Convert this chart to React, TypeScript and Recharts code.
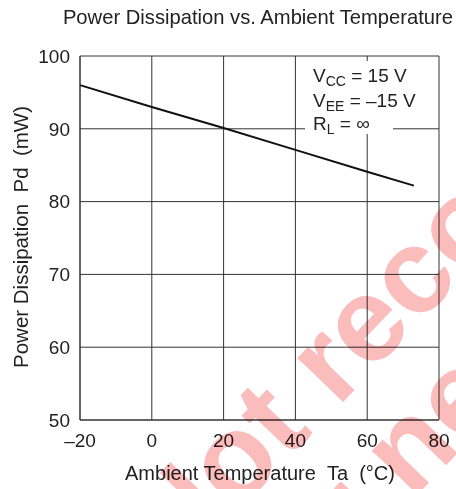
import { LineChart, Line, XAxis, YAxis, CartesianGrid } from 'recharts';

// ambient temperature (°C) and power dissipation (mW)
const temps = [-20, 0, 20, 40, 60, 73];
const power = [96, 93, 90.1, 87.1, 84.1, 82.2];

const xTicks = [-20, 0, 20, 40, 60, 80];
const yTicks = [50, 60, 70, 80, 90, 100];

const FONT = '"Liberation Sans", Arial, Helvetica, sans-serif';
const INK = '#222';
const NB = '\u00a0';

const data = temps.map((t, i) => ({ ta: t, pd: power[i] }));

const fmt = (v: number) => (v < 0 ? '\u2013' + Math.abs(v) : String(v));

export default function App() {
    const wm = 120; // watermark font size
    return (
        <div style={{ position: 'absolute', left: 0, top: 0, width: 456, height: 489, background: '#fff', overflow: 'hidden' }}>
            <LineChart
                width={456}
                height={489}
                data={data}
                margin={{ top: 56, right: 17, bottom: 0, left: 0 }}
            >
                <CartesianGrid stroke="#333" strokeWidth={1} />
                <XAxis
                    dataKey="ta"
                    type="number"
                    domain={[-20, 80]}
                    ticks={xTicks}
                    tickFormatter={fmt}
                    height={69}
                    axisLine={{ stroke: '#333' }}
                    tickLine={false}
                    tickSize={0}
                    tickMargin={14}
                    tick={{ fill: INK, fontSize: 19, fontFamily: FONT }}
                />
                <YAxis
                    type="number"
                    domain={[50, 100]}
                    ticks={yTicks}
                    width={80}
                    axisLine={{ stroke: '#333' }}
                    tickLine={false}
                    tickSize={0}
                    tickMargin={10}
                    tick={{ fill: INK, fontSize: 19, fontFamily: FONT }}
                />
                <Line
                    dataKey="pd"
                    type="linear"
                    stroke="#111"
                    strokeWidth={2}
                    dot={false}
                    isAnimationActive={false}
                />
            </LineChart>
            <svg
                width={456}
                height={489}
                style={{ position: 'absolute', left: 0, top: 0, pointerEvents: 'none' }}
            >
                <g fontFamily={FONT} fill={INK}>
                    <text x={453} y={24} fontSize={20.2} textAnchor="end">
                        Power Dissipation vs. Ambient Temperature
                    </text>
                    <text x={260} y={480} fontSize={20} textAnchor="middle">
                        {`Ambient Temperature ${NB}Ta ${NB}(°C)`}
                    </text>
                    <text
                        x={0}
                        y={0}
                        fontSize={20.5}
                        textAnchor="middle"
                        transform="translate(28 237) rotate(-90)"
                    >
                        {`Power Dissipation ${NB}Pd ${NB}(mW)`}
                    </text>
                    {/* conditions box */}
                    <rect x={305} y={61} width={88} height={73} fill="#fff" />
                    <text x={313} y={82} fontSize={19}>
                        V<tspan fontSize={14} dy={4}>CC</tspan>
                        <tspan dy={-4}> = 15 V</tspan>
                    </text>
                    <text x={313} y={107} fontSize={19}>
                        V<tspan fontSize={14} dy={4}>EE</tspan>
                        <tspan dy={-4}>{' = \u201315 V'}</tspan>
                    </text>
                    <text x={313} y={130} fontSize={19}>
                        R<tspan fontSize={14} dy={4}>L</tspan>
                        <tspan dy={-4}>{' = \u221e'}</tspan>
                    </text>
                </g>
                {/* watermark */}
                <g
                    transform="translate(314 432) rotate(-46)"
                    fontFamily={FONT}
                    fontWeight="bold"
                    fontSize={wm}
                    fill="#fbbcbc"
                    style={{ mixBlendMode: 'multiply' }}
                >
                    <text x={-1.666 * wm} y={0}>Not recommended</text>
                    <text x={-1.666 * wm + 25} y={118}>for new design</text>
                </g>
            </svg>
        </div>
    );
}
